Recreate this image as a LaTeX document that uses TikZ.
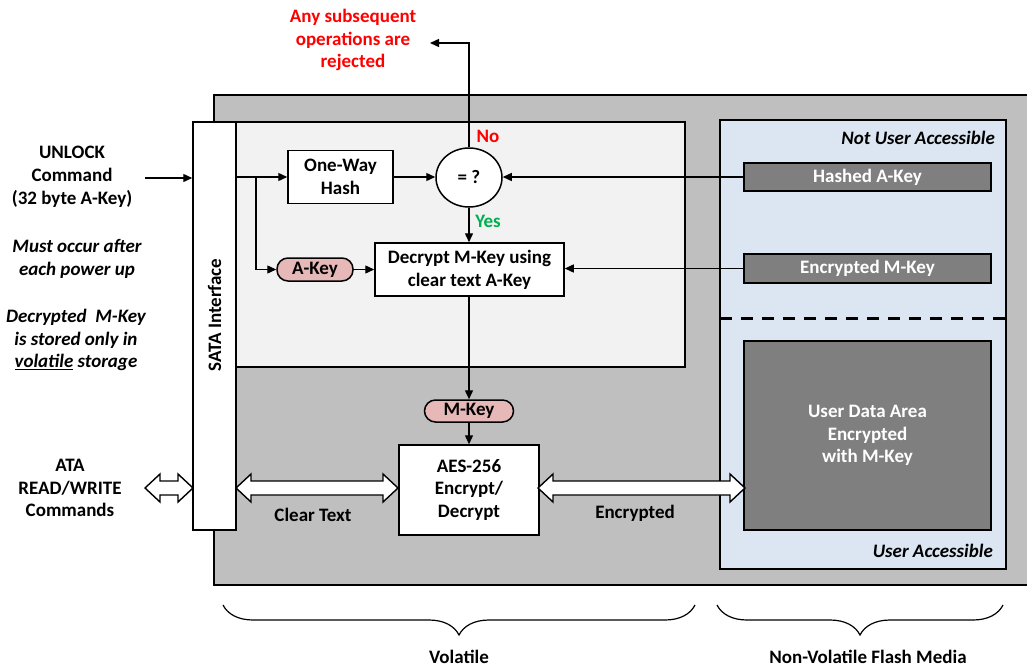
\documentclass[tikz,border=0pt]{standalone}
\usepackage{fontspec}
\setmainfont{Carlito}
\usetikzlibrary{arrows.meta,shapes.geometric,decorations.pathreplacing,calc}
\definecolor{gbg}{HTML}{BFBFBF}
\definecolor{inner}{HTML}{F2F2F2}
\definecolor{bluebg}{HTML}{DCE6F2}
\definecolor{dark}{HTML}{7F7F7F}
\definecolor{pill}{HTML}{E6B9B8}
\definecolor{myred}{HTML}{FF0000}
\definecolor{mygreen}{HTML}{00B050}
\newcommand\hollowarrow[2]{%
  \draw[harrow] let \p1=(#1), \p2=(#2) in
   (\x1,\y1) -- (\x1+15pt,\y1+14pt) -- (\x1+15pt,\y1+7pt) -- (\x2-15pt,\y1+7pt)
   -- (\x2-15pt,\y1+14pt) -- (\x2,\y1) -- (\x2-15pt,\y1-14pt) -- (\x2-15pt,\y1-7pt)
   -- (\x1+15pt,\y1-7pt) -- (\x1+15pt,\y1-14pt) -- cycle;}
\begin{document}
\begin{tikzpicture}[x=1pt,y=-1pt,
  every node/.style={font=\fontsize{19}{22.8}\selectfont\bfseries, inner sep=0pt, align=center},
  frame/.style={draw=black, line width=1.5pt},
  box/.style={frame, fill=white, minimum width=#1},
  darkbox/.style={frame, fill=dark, text=white, minimum width=247pt},
  pillbox/.style={frame, fill=pill, rounded corners=11pt},
  arr/.style={-{Triangle[length=9pt,width=8pt]}, line width=1.4pt},
  harrow/.style={draw=black, fill=white, line width=1.4pt},
  brc/.style={decorate, decoration={brace, mirror, amplitude=30pt, aspect=0.5}, line width=1.2pt},
  ital/.style={font=\fontsize{19}{22.8}\selectfont\bfseries\itshape}
]
\useasboundingbox (0,0) rectangle (1027,669);
% regions
\draw[frame, fill=gbg] (214,95) rectangle (1032,585);
\draw[frame, fill=inner] (236,122) rectangle (685,367);
\draw[frame, fill=bluebg] (720,120) rectangle (1006,569);
\draw[line width=3pt, dash pattern=on 12pt off 9pt] (720,318) -- (1006,318);
% SATA interface
\node[frame, fill=white, minimum width=43pt, minimum height=408pt] (sata) at (214.5,326) {};
\node[rotate=90] (satalbl) at (214.5,315) {SATA Interface};
% nodes
\node[box=105pt, minimum height=53pt] (hash) at (340.5,177) {One-Way\\Hash};
\node[frame, fill=white, ellipse, minimum width=66pt, minimum height=59pt] (cmp) at (469,177.5) {= ?};
\node[box=189pt, minimum height=53pt] (dec) at (469.5,269.5) {Decrypt M-Key using\\clear text A-Key};
\node[pillbox, minimum width=76pt, minimum height=23pt] (akey) at (315,269.5) {A-Key};
\node[pillbox, minimum width=89pt, minimum height=22pt] (mkey) at (469,411) {M-Key};
\node[box=140pt, minimum height=90pt] (aes) at (469,490) {AES-256\\Encrypt/\\Decrypt};
\node[darkbox, minimum height=28pt] (hashed) at (867.5,177) {Hashed A-Key};
\node[darkbox, minimum height=29pt] (encm) at (867.5,268.5) {Encrypted M-Key};
\node[darkbox, minimum height=189pt] (uda) at (867.5,435.5) {User Data Area\\Encrypted\\with M-Key};
% side labels
\node[ital, anchor=east] (nua) at (995,138) {Not User Accessible};
\node[ital, anchor=east] (ua) at (993,551) {User Accessible};
\node (unlock) at (72,177) {UNLOCK\\Command\\(32 byte A-Key)};
\node[ital] (must) at (77,259) {Must occur after\\each power up};
\node[ital] (stored) at (76,340) {Decrypted\ \ M-Key\\is stored only in\\\underline{volatile} storage};
\node (ata) at (70,488) {ATA\\READ/WRITE\\Commands};
\node[text=myred] (rej) at (353,40) {Any subsequent\\operations are\\rejected};
\node[text=myred] (no) at (488,136) {No};
\node[text=mygreen] (yes) at (488,221) {Yes};
\node (clear) at (313,515) {Clear Text};
\node (encr) at (635,513) {Encrypted};
\node (vol) at (459,657) {Volatile};
\node (nvol) at (868,657) {Non-Volatile Flash Media};
% connectors
\coordinate (uin) at (145,178);
\coordinate (br) at (256,178);
\coordinate (rejpt) at (430,43);
\draw[arr] (uin) -- (uin -| sata.west);
\draw[arr] (sata.east |- hash.west) -- (hash.west);
\draw[arr] (br) |- (akey.west);
\draw[arr] (akey.east) -- (dec.west |- akey.east);
\draw[arr] (hash.east) -- (cmp.west |- hash.east);
\draw[arr] (hashed.west) -- (cmp.east |- hashed.west);
\draw[arr] (encm.west) -- (dec.east |- encm.west);
\draw[arr] (cmp.south) -- (dec.north -| cmp.south);
\draw[arr] (cmp.north) |- (rejpt);
\draw[arr] (dec.south -| mkey.north) -- (mkey.north);
\draw[arr] (mkey.south) -- (aes.north);
% hollow double arrows
\coordinate (a1) at (145,488);
\coordinate (a2) at (193,488);
\hollowarrow{a1}{a2}
\coordinate (c1) at (236,488);
\coordinate (c2) at (398,488);
\hollowarrow{c1}{c2}
\coordinate (e1) at (538,488);
\coordinate (e2) at (745,488);
\hollowarrow{e1}{e2}
% braces
\draw[brc] (223,605) -- (695,605);
\draw[brc] (717,605) -- (1003,605);
\end{tikzpicture}
\end{document}
